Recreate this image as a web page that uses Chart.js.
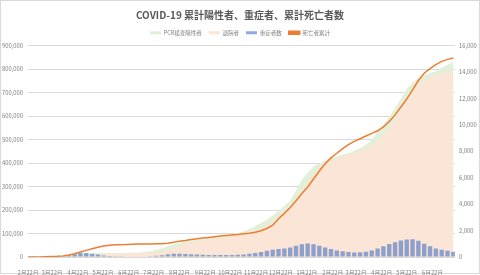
<!DOCTYPE html>
<html>
<head>
<meta charset="utf-8">
<script src="https://cdn.jsdelivr.net/npm/chart.js@4/dist/chart.umd.min.js"></script>
<style>
  html, body { margin: 0; padding: 0; background: #fff; }
  canvas { display: block; }
</style>
</head>
<body>
<canvas id="c" width="480" height="275"></canvas>
<script>
// weekly samples, first one on 2020-02-22
const FIRST_DAY = '2020-02-22';
const FONT = '"Noto Sans CJK JP", "Noto Sans", sans-serif';

const tickDates = [
  '2020-02-22', '2020-03-22', '2020-04-22', '2020-05-22', '2020-06-22', '2020-07-22',
  '2020-08-22', '2020-09-22', '2020-10-22', '2020-11-22', '2020-12-22', '2021-01-22',
  '2021-02-22', '2021-03-22', '2021-04-22', '2021-05-22', '2021-06-22'
];

const seriesNames = ['PCR検査陽性者', '退院者', '重症者数', '死亡者累計'];

// cumulative positives (left axis)
const positives = [
  130, 240, 460, 800, 1050, 1700, 3300, 6700, 10000, 13000,
  14500, 15600, 16200, 16500, 16800, 17100, 17500, 17900, 18500, 19300,
  21500, 25000, 30000, 37000, 46000, 54000, 60000, 66000, 70000, 74000,
  77000, 81000, 85000, 89000, 93000, 97000, 102000, 109000, 119000, 131000,
  145000, 160000, 177000, 196000, 217000, 240000, 283000, 330000, 360000, 385000,
  398000, 411000, 420000, 428000, 436000, 442000, 452000, 463000, 478000, 499000,
  535000, 562000, 597000, 632000, 675000, 716000, 741000, 761000, 773000, 782000,
  792000, 805000, 818000, 830000
];

// cumulative discharged (left axis)
const discharged = [
  20, 40, 80, 190, 290, 400, 550, 800, 1300, 2000,
  3800, 6500, 10500, 13500, 14800, 15500, 16000, 16300, 16600, 16800,
  17300, 18600, 20500, 24000, 30000, 38000, 46500, 55000, 61000, 66500,
  71000, 74500, 78000, 82000, 85500, 89000, 93000, 97500, 103000, 110000,
  120000, 134000, 150000, 167000, 185000, 208000, 235000, 268000, 315000, 350000,
  380000, 398000, 410000, 419000, 427000, 434000, 441000, 450000, 461000, 475000,
  494000, 520000, 550000, 585000, 625000, 678000, 710000, 735000, 752000, 764000,
  772000, 779000, 785000, 792000
];

// severe cases (right axis)
const severe = [
  10, 15, 30, 40, 50, 60, 80, 130, 230, 330,
  310, 250, 180, 110, 80, 60, 50, 40, 35, 30,
  35, 60, 90, 140, 200, 240, 250, 230, 200, 180,
  170, 160, 150, 150, 150, 160, 170, 190, 240, 300,
  380, 480, 550, 600, 650, 710, 850, 970, 1020, 960,
  850, 720, 600, 500, 430, 380, 340, 350, 400, 500,
  640, 820, 980, 1120, 1250, 1330, 1350, 1230, 1000, 820,
  650, 550, 470, 400
];

// cumulative deaths (right axis)
const deaths = [
  1, 5, 8, 25, 40, 55, 85, 150, 250, 380,
  500, 620, 740, 830, 880, 920, 930, 955, 970, 980,
  985, 990, 1000, 1010, 1040, 1110, 1200, 1250, 1320, 1380,
  1430, 1480, 1530, 1580, 1620, 1660, 1700, 1750, 1800, 1880,
  1990, 2160, 2400, 2900, 3300, 3750, 4250, 4800, 5300, 5900,
  6500, 7050, 7500, 7850, 8200, 8500, 8750, 8950, 9150, 9350,
  9550, 9850, 10250, 10750, 11350, 11950, 12650, 13350, 13900, 14250,
  14550, 14800, 14950, 15050
];

const DAY = 24 * 3600 * 1000;
const dayOf = s => Math.round((new Date(s) - new Date(FIRST_DAY)) / DAY);
const days = positives.map((_, i) => i * 7);
const pts = arr => arr.map((v, i) => ({ x: days[i], y: v }));

const tickDays = tickDates.map(dayOf);
const tickLabel = v => {
  const d = new Date(new Date(FIRST_DAY).getTime() + v * DAY);
  return (d.getMonth() + 1) + '月' + d.getDate() + '日';
};

const frame = {
  id: 'frame',
  beforeDraw(chart) {
    const ctx = chart.ctx;
    ctx.save();
    ctx.fillStyle = '#fff';
    ctx.fillRect(0, 0, chart.width, chart.height);
    ctx.strokeStyle = '#d9d9d9';
    ctx.lineWidth = 1;
    ctx.strokeRect(0.5, 0.5, chart.width - 1, chart.height - 2);
    ctx.restore();
  }
};

new Chart(document.getElementById('c'), {
  data: {
    datasets: [
      {
        type: 'line', label: seriesNames[0], data: pts(positives), yAxisID: 'y',
        backgroundColor: '#e2efd9', borderColor: '#e2efd9', borderWidth: 0,
        fill: 'origin', pointRadius: 0, order: 4
      },
      {
        type: 'line', label: seriesNames[1], data: pts(discharged), yAxisID: 'y',
        backgroundColor: '#fbe5d6', borderColor: '#fbe5d6', borderWidth: 0,
        fill: 'origin', pointRadius: 0, order: 3
      },
      {
        type: 'bar', label: seriesNames[2], data: pts(severe), yAxisID: 'y1',
        backgroundColor: 'rgba(68,114,196,0.6)', borderWidth: 0,
        barPercentage: 0.75, categoryPercentage: 1, order: 2
      },
      {
        type: 'line', label: seriesNames[3], data: pts(deaths), yAxisID: 'y1',
        borderColor: '#ed7d31', backgroundColor: '#ed7d31', borderWidth: 1.5,
        fill: false, pointRadius: 0, order: 1
      }
    ]
  },
  options: {
    responsive: false,
    animation: false,
    layout: { padding: { left: 0, right: 0, top: 0, bottom: 0 } },
    plugins: {
      title: {
        display: true,
        text: 'COVID-19 累計陽性者、重症者、累計死亡者数',
        color: '#595959',
        font: { family: FONT, size: 10, weight: 'bold' },
        padding: { top: 9, bottom: 2 }
      },
      legend: {
        labels: {
          boxWidth: 11, boxHeight: 3, padding: 7, color: '#808080',
          font: { family: FONT, size: 5.5 },
          sort: (a, b) => a.datasetIndex - b.datasetIndex
        }
      },
      tooltip: { enabled: false }
    },
    scales: {
      x: {
        type: 'linear', min: 0, max: 513, offset: false,
        grid: { display: false }, border: { display: false },
        afterBuildTicks: s => { s.ticks = tickDays.map(v => ({ value: v })); },
        afterFit: s => { s.height = 18; },
        ticks: {
          autoSkip: false, maxRotation: 0, padding: 4, color: '#808080',
          font: { family: FONT, size: 5.7 },
          callback: v => tickLabel(v)
        }
      },
      y: {
        position: 'left', min: 0, max: 900000,
        grid: { color: '#d9d9d9', drawTicks: false }, border: { display: false },
        afterFit: s => { s.width = 28; },
        ticks: {
          stepSize: 100000, padding: 5, color: '#808080',
          font: { family: FONT, size: 5.8 },
          callback: v => v.toLocaleString('en-US')
        }
      },
      y1: {
        position: 'right', min: 0, max: 16000,
        grid: { drawOnChartArea: false, drawTicks: false }, border: { display: false },
        afterFit: s => { s.width = 25; },
        ticks: {
          stepSize: 2000, padding: 4, color: '#808080',
          font: { family: FONT, size: 5.8 },
          callback: v => v.toLocaleString('en-US')
        }
      }
    }
  },
  plugins: [frame]
});
</script>
</body>
</html>
